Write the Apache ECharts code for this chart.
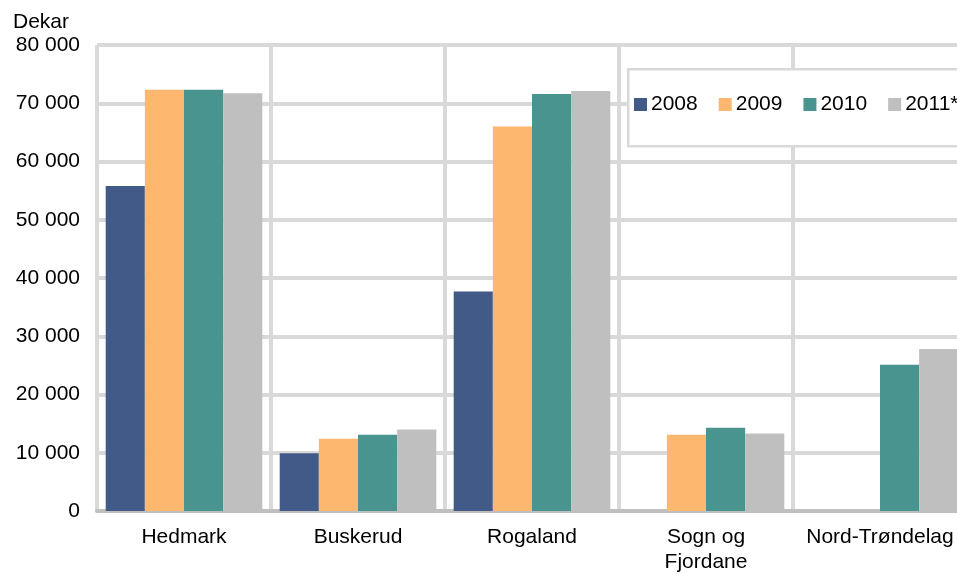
<!DOCTYPE html>
<html>
<head>
<meta charset="utf-8">
<script src="https://cdn.jsdelivr.net/npm/echarts@6/dist/echarts.min.js"></script>
<style>html,body{margin:0;padding:0;background:#fff;overflow:hidden}#c{width:968px;height:575px}</style>
</head>
<body>
<div id="c"></div>
<script>
const categories = ['Hedmark', 'Buskerud', 'Rogaland', 'Sogn og\nFjordane', 'Nord-Trøndelag'];
const seriesNames = ['2008', '2009', '2010', '2011*'];
const v2008 = [55800, 9900, 37700, null, null];
const v2009 = [72300, 12400, 66000, 13100, null];
const v2010 = [72300, 13100, 71600, 14300, 25100];
const v2011 = [71700, 14000, 72100, 13300, 27800];
const yTicks = [0, 10000, 20000, 30000, 40000, 50000, 60000, 70000, 80000];
const colors = ['#425A87', '#FDB76F', '#4A9490', '#BFBFBF'];

const chart = echarts.init(document.getElementById('c'));
const font = 'Liberation Sans, Arial, sans-serif';
const fs = 21;
const dataSets = [v2008, v2009, v2010, v2011];
chart.setOption({
  animation: false,
  textStyle: { fontFamily: font },
  title: { text: 'Dekar', left: 8, top: 7, textStyle: { fontSize: fs, fontWeight: 'normal', color: '#000', fontFamily: font } },
  graphic: [{
    type: 'rect', left: 627, top: 68, z: 5,
    shape: { width: 400, height: 77 },
    style: { fill: '#fff', stroke: '#D9D9D9', lineWidth: 2.5 }
  }],
  legend: {
    data: seriesNames,
    left: 634, top: 94, width: 330,
    orient: 'horizontal', z: 10,
    icon: 'rect', itemWidth: 13, itemHeight: 13, itemGap: 21,
    padding: 0,
    textStyle: { fontSize: fs, color: '#000', fontFamily: font, padding: [0, 0, 0, -1] }
  },
  grid: { left: 97, top: 45, bottom: 61, right: 1, containLabel: false },
  xAxis: {
    type: 'category', data: categories,
    axisLine: { lineStyle: { color: '#BFBFBF', width: 4 } },
    axisTick: { show: false },
    splitLine: { show: true, interval: 0, lineStyle: { color: '#D9D9D9', width: 4 } },
    axisLabel: { interval: 0, fontSize: fs, color: '#000', margin: 14, lineHeight: 25, fontFamily: font }
  },
  yAxis: {
    type: 'value', min: yTicks[0], max: yTicks[yTicks.length - 1], interval: yTicks[1] - yTicks[0],
    axisLine: { show: false }, axisTick: { show: false },
    splitLine: { lineStyle: { color: '#D9D9D9', width: 4 } },
    axisLabel: {
      fontSize: fs, color: '#000', margin: 17, fontFamily: font,
      formatter: v => String(v).replace(/\B(?=(\d{3})+(?!\d))/g, ' ')
    }
  },
  series: seriesNames.map((n, i) => ({
    name: n, type: 'bar', data: dataSets[i],
    barGap: '0%', barCategoryGap: '10%',
    itemStyle: { color: colors[i] }
  }))
});
</script>
</body>
</html>
